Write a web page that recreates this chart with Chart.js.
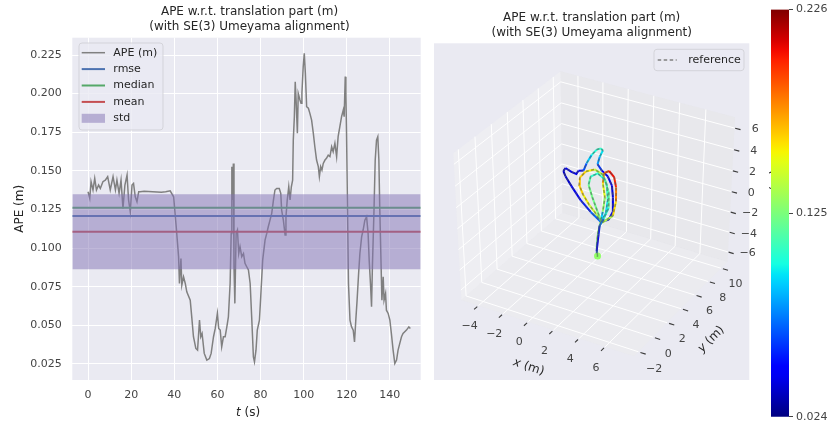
<!DOCTYPE html>
<html><head><meta charset="utf-8">
<script src="https://cdn.jsdelivr.net/npm/chart.js@4/dist/chart.umd.min.js"></script>
<style>
html,body{margin:0;padding:0;background:#fff;}
#wrap{position:relative;width:831px;height:428px;overflow:hidden;background:#fff;}
canvas{position:absolute;top:0;}
#c1{left:0;} #c2{left:430px;} #c3{left:760px;}
</style></head><body>
<div id="wrap">
<canvas id="c1" width="430" height="428"></canvas>
<canvas id="c2" width="401" height="428"></canvas>
<canvas id="c3" width="71" height="428"></canvas>
</div>
<script>
// ---------- DATA ----------
const apeT = [0,0.8,1.4,2.3,3.1,3.9,4.9,5.7,6.9,8.0,9.1,10.3,11.6,12.7,13.4,14.4,15.3,16.2,17.1,18.1,18.8,19.6,20.4,21.1,21.9,22.7,23.5,24.2,26,30,34,36,38.1,39.7,40.9,42.0,42.4,43.1,43.5,44.3,45.1,45.8,47.4,48.1,48.9,50.0,50.8,51.7,52.3,52.9,53.9,55.1,56.3,57.1,58.2,59.0,60.0,60.6,61.3,62.0,62.8,63.6,64.4,65.1,65.9,66.4,66.7,67.0,67.4,67.7,68.1,68.4,68.7,69.3,69.9,70.5,71.3,72.1,72.8,73.6,74.4,75.2,75.9,76.7,77.2,77.9,78.5,79.5,80.1,81.0,82.1,82.9,83.6,84.4,85.2,86.0,86.7,87.5,88.7,89.4,89.8,90.6,91.4,91.8,92.4,93.1,93.7,94.3,94.9,95.2,95.7,96.1,96.5,97.1,97.5,98.3,98.8,99.2,99.8,100.3,100.8,101.4,102.2,102.9,103.7,104.5,105.2,106.0,106.8,107.3,107.9,108.5,109.1,109.9,110.6,111.4,112.2,113.0,113.7,114.5,115.3,116.0,116.8,117.6,118.4,118.8,119.3,119.6,119.9,120.4,120.8,121.5,122.2,123.0,123.6,124.2,124.8,125.5,126.1,126.9,127.6,128.4,129.2,129.9,130.4,131.0,131.5,131.9,132.6,133.2,133.8,134.4,134.9,135.3,135.8,136.3,136.9,137.3,138.0,138.4,139.2,140.0,140.7,141.5,142.3,143.1,143.8,144.6,145.4,146.1,147.7,148.8,149.5];
const apeV = [.1365,.1322,.1430,.1376,.1451,.1376,.1408,.1386,.1430,.1440,.1462,.1376,.1462,.1376,.1440,.1354,.1440,.1257,.1408,.1473,.1311,.1235,.1408,.1419,.1332,.1300,.1365,.1365,.1368,.1365,.1362,.1365,.1371,.1332,.1138,.0944,.0771,.0933,.0760,.0814,.0771,.0717,.0663,.0555,.0426,.0350,.0339,.0534,.0426,.0447,.0318,.0275,.0285,.0318,.0426,.0480,.0577,.0480,.0469,.0361,.0426,.0426,.0491,.0555,.0771,.1095,.1527,.1311,.1548,.0879,.0642,.0879,.1095,.1117,.0965,.1009,.0944,.0965,.0901,.0879,.0858,.0771,.0555,.0296,.0264,.0339,.0469,.0534,.0685,.0922,.1052,.1095,.1138,.1181,.1225,.1311,.1376,.1386,.1386,.1354,.1246,.1181,.1084,.1203,.1311,.1397,.1311,.1397,.1440,.1699,.1851,.2077,.1959,.1743,.2002,.1959,.1937,.2002,.2174,.2261,.2131,.1915,.1905,.1872,.1829,.1743,.1656,.1570,.1527,.1462,.1527,.1505,.1548,.1570,.1581,.1602,.1592,.1656,.1624,.1678,.1592,.1721,.1786,.1851,.1894,.1851,.2110,.2002,.1743,.1203,.0771,.0534,.0491,.0469,.0393,.0534,.0663,.0836,.0965,.1073,.1117,.1181,.1203,.1095,.0922,.0771,.0620,.0879,.1225,.1570,.1699,.1721,.1570,.1268,.0965,.0663,.0814,.0663,.0706,.0598,.0577,.0534,.0447,.0339,.0253,.0275,.0339,.0383,.0426,.0447,.0469,.0490,.0480];
const statRmse = 0.1207;
const statMedian = 0.1261;
const statMean = 0.1106;
const statStd = 0.0243;
const apeXTicks = [0,20,40,60,80,100,120,140];
const apeYTicks = [0.025,0.05,0.075,0.1,0.125,0.15,0.175,0.2,0.225];

// 3D trajectory (m)
const trajX = [1.38,1.31,1.38,1.46,1.62,1.23,0.68,0.21,-0.10,-0.02,0.45,1.15,1.77,2.09,2.17,2.01,1.62,0.84,0.06,-0.65,-1.11,-1.27,-1.11,-0.65,-0.26,-0.10,0.29,0.53,0.92,1.31,1.62,1.77,1.54,1.38,1.70,2.17,2.48,2.56,2.56,2.24,1.62,1.77,1.93,1.77,1.85,2.24,2.63,2.79,2.79,2.56,1.70,1.38,0.99,0.68,0.84,1.38,1.93,2.24,2.24,1.85,1.54,1.46,1.38,1.31,1.38];
const trajY = [4.40,4.40,4.38,4.40,4.42,4.44,4.45,4.46,4.45,4.43,4.42,4.40,4.40,4.41,4.42,4.42,4.42,4.40,4.38,4.37,4.36,4.36,4.37,4.38,4.38,4.39,4.40,4.40,4.41,4.41,4.42,4.42,4.41,4.40,4.40,4.41,4.42,4.43,4.43,4.42,4.42,4.43,4.44,4.44,4.45,4.45,4.45,4.44,4.44,4.43,4.42,4.41,4.40,4.40,4.40,4.41,4.42,4.42,4.42,4.41,4.41,4.40,4.40,4.40,4.40];
const trajZ = [-4.66,-3.82,-2.83,-2.04,-1.21,-0.58,0.09,0.88,1.73,2.43,3.18,3.62,3.37,2.52,1.10,-0.30,-1.21,-0.53,0.34,1.44,2.23,2.66,3.00,2.79,2.73,3.08,3.22,3.98,4.89,5.51,5.72,5.58,4.92,4.19,3.72,3.31,2.56,1.44,0.09,-0.79,-1.21,-0.19,1.21,2.50,3.49,3.82,3.39,2.48,1.14,-0.30,-1.28,-0.33,0.87,2.01,2.84,3.33,2.94,1.80,0.36,-0.84,-1.62,-2.52,-3.41,-4.21,-4.75];
const trajErr = [0.13,0.13,0.13,0.135,0.137,0.14,0.15,0.16,0.165,0.165,0.16,0.15,0.13,0.11,0.10,0.09,0.08,0.06,0.05,0.04,0.035,0.035,0.04,0.045,0.04,0.045,0.05,0.08,0.10,0.105,0.11,0.10,0.09,0.07,0.05,0.045,0.04,0.04,0.045,0.05,0.06,0.12,0.14,0.16,0.18,0.20,0.21,0.19,0.17,0.15,0.13,0.12,0.125,0.12,0.11,0.10,0.11,0.12,0.115,0.09,0.06,0.05,0.045,0.05,0.07];
const ticks3x = [-4,-2,0,2,4,6];
const ticks3y = [-2,0,2,4,6,8,10];
const ticks3z = [-6,-4,-2,0,2,4,6];
const lim3x = [-5.4, 8.2];
const lim3y = [-2.6, 11.0];
const lim3z = [-7.0, 7.0];
const cbMin = 0.024, cbMax = 0.226;
const cbTicks = [0.024, 0.125, 0.226];

// ---------- helpers ----------
const FONT = '"DejaVu Sans", "Liberation Sans", sans-serif';
const TXT = '#262626', TICK = '#444';
const titleLines = ['APE w.r.t. translation part (m)', '(with SE(3) Umeyama alignment)'];
const apeXMin = -7.3, apeXMax = 154.3, apeYMin = 0.0146, apeYMax = 0.2362;

function lerpTab(v, xs, ys){
  if (v <= xs[0]) return ys[0];
  for (let i=1;i<xs.length;i++){ if (v <= xs[i]) { const f=(v-xs[i-1])/(xs[i]-xs[i-1]); return ys[i-1]+f*(ys[i]-ys[i-1]); } }
  return ys[ys.length-1];
}
function jet(v){
  v = Math.max(0, Math.min(1, v));
  const r = lerpTab(v,[0,.35,.66,.89,1],[0,0,1,1,.5]);
  const g = lerpTab(v,[0,.125,.375,.64,.91,1],[0,0,1,1,0,0]);
  const b = lerpTab(v,[0,.11,.34,.65,1],[.5,1,1,0,0]);
  return `rgb(${Math.round(r*255)},${Math.round(g*255)},${Math.round(b*255)})`;
}
const errColor = e => jet((e-cbMin)/(cbMax-cbMin));

// perspective projection of the 3D axes box (elev 35, azim -60)
const ELEV = 35, AZIM = -60, DIST = 10;
function proj(x,y,z){
  const q = [(x-lim3x[0])/(lim3x[1]-lim3x[0])-0.5,(y-lim3y[0])/(lim3y[1]-lim3y[0])-0.5,(z-lim3z[0])/(lim3z[1]-lim3z[0])-0.5];
  const e = ELEV*Math.PI/180, a = AZIM*Math.PI/180;
  const n = [Math.cos(a)*Math.cos(e), Math.sin(a)*Math.cos(e), Math.sin(e)];
  const ul = Math.hypot(n[0],n[1]);
  const u = [-n[1]/ul, n[0]/ul, 0];
  const v = [n[1]*u[2]-n[2]*u[1], n[2]*u[0]-n[0]*u[2], n[0]*u[1]-n[1]*u[0]];
  const dot = (p,r)=>p[0]*r[0]+p[1]*r[1]+p[2]*r[2];
  const w = DIST - dot(n,q);
  return {x: dot(u,q)/w, y: dot(v,q)/w};
}
const fmt3 = v => (v<0 ? '\u2212'+Math.abs(v) : String(v));

function drawMixed(ctx, parts, x, y, rot, size){
  ctx.save();
  ctx.translate(x,y); ctx.rotate(rot||0);
  let widths = parts.map(p=>{ctx.font=(p.it?'italic ':'')+size+'px '+FONT; return ctx.measureText(p.t).width;});
  let total = widths.reduce((s,w)=>s+w,0);
  let cx = -total/2;
  ctx.textAlign='left'; ctx.textBaseline='middle'; ctx.fillStyle=TXT;
  parts.forEach((p,i)=>{ctx.font=(p.it?'italic ':'')+size+'px '+FONT; ctx.fillText(p.t,cx,0); cx+=widths[i];});
  ctx.restore();
}

// ---------- LEFT: APE over time ----------
const areaBg = {
  id:'areaBg',
  beforeDraw(chart){
    const {ctx, chartArea:a} = chart;
    ctx.save(); ctx.fillStyle='#EAEAF2'; ctx.fillRect(a.left,a.top,a.right-a.left,a.bottom-a.top); ctx.restore();
  }
};
const apeDeco = {
  id:'apeDeco',
  afterDatasetsDraw(chart){
    const {ctx, chartArea:a} = chart;
    ctx.save();
    const bx=a.left+6.7, by=a.top+5.3, bw=84, bh=87, r=3;
    ctx.beginPath();
    ctx.moveTo(bx+r,by); ctx.lineTo(bx+bw-r,by); ctx.quadraticCurveTo(bx+bw,by,bx+bw,by+r);
    ctx.lineTo(bx+bw,by+bh-r); ctx.quadraticCurveTo(bx+bw,by+bh,bx+bw-r,by+bh);
    ctx.lineTo(bx+r,by+bh); ctx.quadraticCurveTo(bx,by+bh,bx,by+bh-r);
    ctx.lineTo(bx,by+r); ctx.quadraticCurveTo(bx,by,bx+r,by); ctx.closePath();
    ctx.fillStyle='rgba(234,234,242,0.8)'; ctx.fill();
    ctx.strokeStyle='rgba(210,210,215,0.9)'; ctx.lineWidth=1; ctx.stroke();
    const items = chart.data.datasets.filter(d=>d.legendKind);
    items.forEach((d,i)=>{
      const y = a.top+15+i*16.4;
      if (d.legendKind==='patch'){
        ctx.fillStyle=d.backgroundColor; ctx.fillRect(a.left+9.4,y-4.5,23.3,9);
      } else {
        ctx.beginPath(); ctx.moveTo(a.left+9.4,y); ctx.lineTo(a.left+32.7,y);
        ctx.strokeStyle=d.borderColor; ctx.lineWidth=d.borderWidth; ctx.stroke();
      }
      ctx.fillStyle=TXT; ctx.font='11px '+FONT; ctx.textAlign='left'; ctx.textBaseline='middle';
      ctx.fillText(d.label, a.left+41, y);
    });
    ctx.restore();
  },
  afterDraw(chart){
    const {ctx} = chart;
    ctx.save();
    ctx.fillStyle=TXT; ctx.font='12px '+FONT; ctx.textAlign='center'; ctx.textBaseline='middle';
    ctx.fillText(titleLines[0], 249.5, 11.7);
    ctx.fillText(titleLines[1], 249.5, 26.7);
    ctx.restore();
    drawMixed(ctx, [{t:'t',it:true},{t:' (s)'}], 248, 412.5, 0, 12);
  }
};
const hline = v => [{x:apeXMin,y:v},{x:apeXMax,y:v}];
new Chart(document.getElementById('c1'), {
  type:'line',
  data:{datasets:[
    {label:'APE (m)', legendKind:'line', data: apeT.map((t,i)=>({x:t,y:apeV[i]})), borderColor:'#808080', borderWidth:1.5, pointRadius:0, order:6},
    {label:'rmse', legendKind:'line', data: hline(statRmse), borderColor:'#4C72B0', borderWidth:2, pointRadius:0, order:5},
    {label:'median', legendKind:'line', data: hline(statMedian), borderColor:'#55A868', borderWidth:2, pointRadius:0, order:4},
    {label:'mean', legendKind:'line', data: hline(statMean), borderColor:'#C44E52', borderWidth:2, pointRadius:0, order:3},
    {label:'std', legendKind:'patch', data: hline(statMean+statStd), borderWidth:0, borderColor:'rgba(0,0,0,0)', pointRadius:0, fill:'+1', backgroundColor:'rgba(129,114,179,0.5)', order:1},
    {label:'std-lower', data: hline(statMean-statStd), borderWidth:0, borderColor:'rgba(0,0,0,0)', pointRadius:0, fill:false, order:2}
  ]},
  options:{
    responsive:false, animation:false, devicePixelRatio:1,
    layout:{padding:{left:8.8, right:9.3, top:37.7, bottom:0}},
    plugins:{legend:{display:false}, tooltip:{enabled:false}},
    elements:{line:{tension:0}},
    scales:{
      x:{type:'linear', min:apeXMin, max:apeXMax,
        afterBuildTicks:s=>{s.ticks=apeXTicks.map(v=>({value:v}));},
        ticks:{font:{family:FONT,size:11}, color:TICK, padding:3, maxRotation:0, callback:v=>String(v)},
        grid:{color:'#ffffff', lineWidth:1, tickLength:6, tickColor:'rgba(0,0,0,0)'},
        border:{display:false},
        afterFit:s=>{s.height=48;}
      },
      y:{type:'linear', min:apeYMin, max:apeYMax,
        afterBuildTicks:s=>{s.ticks=apeYTicks.map(v=>({value:v}));},
        ticks:{font:{family:FONT,size:11}, color:TICK, padding:3, callback:v=>v.toFixed(3)},
        grid:{color:'#ffffff', lineWidth:1, tickLength:7.5, tickColor:'rgba(0,0,0,0)'},
        border:{display:false},
        title:{display:true, text:'APE (m)', font:{family:FONT,size:12}, color:TXT, padding:{top:4,bottom:0}},
        afterFit:s=>{s.width=63.5;}
      }
    }
  },
  plugins:[areaBg, apeDeco]
});

// ---------- RIGHT: 3D trajectory ----------
const P3 = (chart,x,y,z)=>{const p=proj(x,y,z); return [chart.scales.x.getPixelForValue(p.x), chart.scales.y.getPixelForValue(p.y)];};
const box3d = {
  id:'box3d',
  beforeDatasetsDraw(chart){
    const ctx = chart.ctx;
    const P = (x,y,z)=>P3(chart,x,y,z);
    const [x0,x1]=lim3x, [y0,y1]=lim3y, [z0,z1]=lim3z;
    ctx.save();
    const poly=(pts,fill)=>{ctx.beginPath(); pts.forEach((p,i)=>{const q=P(...p); if(i) ctx.lineTo(q[0],q[1]); else ctx.moveTo(q[0],q[1]);}); ctx.closePath(); ctx.fillStyle=fill; ctx.fill();};
    poly([[x0,y0,z0],[x0,y1,z0],[x0,y1,z1],[x0,y0,z1]],'rgba(242,242,242,0.5)');
    poly([[x0,y1,z0],[x1,y1,z0],[x1,y1,z1],[x0,y1,z1]],'rgba(229,229,229,0.5)');
    poly([[x0,y0,z0],[x1,y0,z0],[x1,y1,z0],[x0,y1,z0]],'rgba(236,236,236,0.5)');
    const seg=(a,b,c,w)=>{const p=P(...a),q=P(...b); ctx.beginPath(); ctx.moveTo(p[0],p[1]); ctx.lineTo(q[0],q[1]); ctx.strokeStyle=c; ctx.lineWidth=w; ctx.stroke();};
    ticks3y.forEach(v=>{seg([x0,v,z0],[x0,v,z1],'#fff',1); seg([x0,v,z0],[x1,v,z0],'#fff',1);});
    ticks3x.forEach(v=>{seg([v,y1,z0],[v,y1,z1],'#fff',1); seg([v,y0,z0],[v,y1,z0],'#fff',1);});
    ticks3z.forEach(v=>{seg([x0,y0,v],[x0,y1,v],'#fff',1); seg([x0,y1,v],[x1,y1,v],'#fff',1);});
    ticks3x.forEach(v=>seg([v,y0-0.15,z0],[v,y0-0.55,z0],'#3c3c3c',1.1));
    ticks3y.forEach(v=>seg([x1+0.15,v,z0],[x1+0.55,v,z0],'#3c3c3c',1.1));
    ticks3z.forEach(v=>seg([x1+0.05,y1,v],[x1+0.45,y1,v],'#3c3c3c',1.1));
    ctx.font='11px '+FONT; ctx.fillStyle=TICK; ctx.textAlign='center'; ctx.textBaseline='middle';
    ticks3x.forEach(v=>{const p=P(v,y0-1.2,z0-1.2); ctx.fillText(fmt3(v),p[0],p[1]);});
    ticks3y.forEach(v=>{const p=P(x1+1.2,v,z0-1.2); ctx.fillText(fmt3(v),p[0],p[1]);});
    ticks3z.forEach(v=>{const p=P(x1+1.3,y1+0.5,v); ctx.fillText(fmt3(v),p[0],p[1]);});
    ctx.restore();
    // axis labels
    const xa=P(x0,y0,z0), xb=P(x1,y0,z0), ya=P(x1,y0,z0), yb=P(x1,y1,z0);
    const xl=P((x0+x1)/2, y0-2.3, z0-2.3);
    drawMixed(ctx,[{t:'x',it:true},{t:' (m)'}], xl[0], xl[1], Math.atan2(xb[1]-xa[1], xb[0]-xa[0]), 12);
    const yl=P(x1+2.3, (y0+y1)/2, z0-2.3);
    drawMixed(ctx,[{t:'y',it:true},{t:' (m)'}], yl[0], yl[1], Math.atan2(yb[1]-ya[1], yb[0]-ya[0]), 12);
    const zl=P(x1+2.3, y1+2.3, (z0+z1)/2);
    drawMixed(ctx,[{t:'z',it:true},{t:' (m)'}], zl[0], zl[1], -Math.PI/2, 12);
  },
  afterDatasetsDraw(chart){
    const ctx=chart.ctx;
    ctx.save();
    const bx=224, by=49.3, bw=90, bh=21.4, r=3;
    ctx.beginPath();
    ctx.moveTo(bx+r,by); ctx.lineTo(bx+bw-r,by); ctx.quadraticCurveTo(bx+bw,by,bx+bw,by+r);
    ctx.lineTo(bx+bw,by+bh-r); ctx.quadraticCurveTo(bx+bw,by+bh,bx+bw-r,by+bh);
    ctx.lineTo(bx+r,by+bh); ctx.quadraticCurveTo(bx,by+bh,bx,by+bh-r);
    ctx.lineTo(bx,by+r); ctx.quadraticCurveTo(bx,by,bx+r,by); ctx.closePath();
    ctx.fillStyle='rgba(234,234,242,0.8)'; ctx.fill();
    ctx.strokeStyle='rgba(210,210,215,0.9)'; ctx.lineWidth=1; ctx.stroke();
    const d=chart.data.datasets[0];
    ctx.beginPath(); ctx.setLineDash([3.5,2.5]); ctx.moveTo(227.7,60); ctx.lineTo(246.7,60);
    ctx.strokeStyle='#808080'; ctx.lineWidth=1.4; ctx.stroke(); ctx.setLineDash([]);
    ctx.fillStyle=TXT; ctx.font='11px '+FONT; ctx.textAlign='left'; ctx.textBaseline='middle';
    ctx.fillText(d.label, 258.3, 60);
    ctx.fillStyle=TXT; ctx.font='12px '+FONT; ctx.textAlign='center';
    ctx.fillText(titleLines[0], 161.7, 18);
    ctx.fillText(titleLines[1], 161.7, 33);
    ctx.restore();
  }
};
const trajPts = trajX.map((x,i)=>proj(x,trajY[i],trajZ[i]));
new Chart(document.getElementById('c2'), {
  type:'scatter',
  data:{datasets:[
    {label:'reference', data: trajPts, showLine:true, borderColor:'rgba(80,80,90,0.55)', borderDash:[3,2.5], borderWidth:1.5, pointRadius:0, order:1},
    {label:'APE (m)', data: trajPts, showLine:true, borderWidth:2, borderColor:'#00f',
      pointRadius: c=>c.dataIndex===0?3.5:0, pointBorderWidth:0,
      pointBackgroundColor: c=>errColor(trajErr[c.dataIndex]),
      segment:{borderColor: c=>errColor((trajErr[c.p0DataIndex]+trajErr[c.p1DataIndex])/2)}, order:2}
  ]},
  options:{
    responsive:false, animation:false, devicePixelRatio:1,
    layout:{padding:{left:2.7, right:81.7, top:43.3, bottom:48}},
    plugins:{legend:{display:false}, tooltip:{enabled:false}},
    scales:{
      x:{type:'linear', display:false, min:-0.08102, max:0.07635},
      y:{type:'linear', display:false, min:-0.09575, max:0.09373}
    }
  },
  plugins:[areaBg, box3d]
});

// ---------- COLORBAR ----------
new Chart(document.getElementById('c3'), {
  type:'bar',
  data:{labels:['APE'], datasets:[{data:[[cbMin,cbMax]], borderWidth:0, barPercentage:1, categoryPercentage:1,
    backgroundColor: c=>{
      const ch=c.chart, a=ch.chartArea; if(!a) return '#000';
      const g=ch.ctx.createLinearGradient(0,a.bottom,0,a.top);
      for(let i=0;i<=40;i++) g.addColorStop(i/40, jet(i/40));
      return g;
    }}]},
  options:{
    responsive:false, animation:false, devicePixelRatio:1,
    layout:{padding:{left:11, right:0, top:8.3, bottom:11.3}},
    plugins:{legend:{display:false}, tooltip:{enabled:false}},
    scales:{
      x:{display:false},
      y:{position:'right', min:cbMin, max:cbMax,
        afterBuildTicks:s=>{s.ticks=cbTicks.map(v=>({value:v}));},
        ticks:{font:{family:FONT,size:11}, color:TICK, padding:3, callback:v=>v.toFixed(3)},
        grid:{drawOnChartArea:false, tickLength:4, tickColor:'#444', lineWidth:1},
        border:{display:false},
        afterFit:s=>{s.width=42;}
      }
    }
  }
});
</script>
</body></html>
